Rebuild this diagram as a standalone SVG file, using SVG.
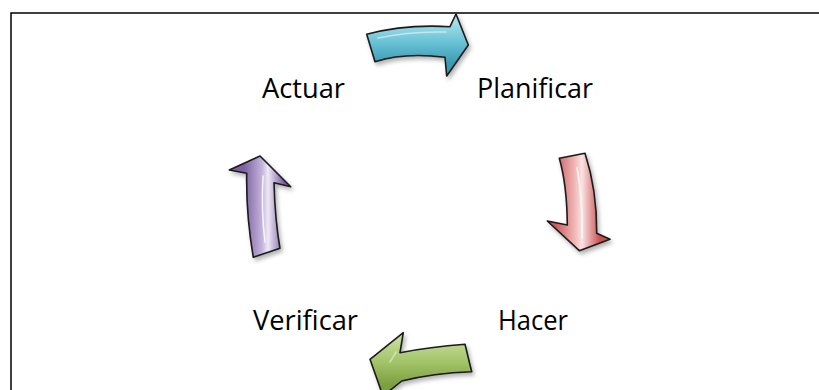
<svg xmlns="http://www.w3.org/2000/svg" width="819" height="390" viewBox="0 0 819 390">
  <style>
    .lbl { font-family: "Open Sans", "Liberation Sans", sans-serif; font-size: 27px; fill: #000; }
    .arrow { stroke: #1a1a1a; stroke-width: 1.6; stroke-linejoin: round; filter: url(#shadow); }
    .gloss { fill: none; stroke: #ffffff; stroke-linecap: round; }
  </style>
  <defs>
    <filter id="shadow" x="-30%" y="-30%" width="160%" height="160%">
      <feDropShadow dx="2" dy="3" stdDeviation="2" flood-color="#000" flood-opacity="0.3"/>
    </filter>
    <linearGradient id="gCyan" gradientUnits="userSpaceOnUse" x1="0" y1="22" x2="0" y2="64">
      <stop offset="0" stop-color="#a6dfeb"/>
      <stop offset="0.45" stop-color="#6cc4d7"/>
      <stop offset="1" stop-color="#3a9ab2"/>
    </linearGradient>
    <linearGradient id="gRed" gradientUnits="userSpaceOnUse" x1="555" y1="0" x2="600" y2="0">
      <stop offset="0" stop-color="#c85a5a"/>
      <stop offset="0.45" stop-color="#f2b9b9"/>
      <stop offset="0.6" stop-color="#fbe3e3"/>
      <stop offset="1" stop-color="#c95050"/>
    </linearGradient>
    <linearGradient id="gGreen" gradientUnits="userSpaceOnUse" x1="0" y1="340" x2="0" y2="385">
      <stop offset="0" stop-color="#c4dc98"/>
      <stop offset="0.5" stop-color="#a2c368"/>
      <stop offset="1" stop-color="#7c9f40"/>
    </linearGradient>
    <linearGradient id="gPurple" gradientUnits="userSpaceOnUse" x1="244" y1="0" x2="284" y2="0">
      <stop offset="0" stop-color="#7d62a3"/>
      <stop offset="0.45" stop-color="#c3b3da"/>
      <stop offset="0.6" stop-color="#efe9f7"/>
      <stop offset="1" stop-color="#7a5ca0"/>
    </linearGradient>
  </defs>

  <rect width="819" height="390" fill="#ffffff"/>
  <path d="M11,392 L11,13 L821,13" fill="none" stroke="#000" stroke-width="1.5"/>

  <g id="connectors">
    <g id="arrow-plan">
      <path class="arrow" fill="url(#gCyan)" d="M366.7,34.3 Q405,24 450,26.7 L456,14 L468.3,45 L446.7,76 L445,57.3 Q405,52 375,61.7 Z"/>
      <path class="gloss" stroke-opacity="0.5" stroke-width="1.5" d="M378,38 Q410,31 446,32"/>
    </g>
    <g id="arrow-hacer">
      <path class="arrow" fill="url(#gRed)" d="M559.3,158.3 L585,153.3 Q597,190 596.7,233.3 L610,239.3 L579.3,250.7 L547.3,221 L567.3,225 Q567,185 559.3,158.3 Z"/>
      <path class="gloss" stroke-opacity="0.85" stroke-width="1.5" d="M577,168 Q583,200 582,238"/>
    </g>
    <g id="arrow-verif">
      <path class="arrow" fill="url(#gGreen)" d="M370,359.3 L403.3,332.7 L400,352.7 Q430,347 465,344.3 L471.7,371.7 Q433,373 401.7,381 L383,396 Z"/>
      <path class="gloss" stroke-opacity="0.45" stroke-width="1.5" d="M390,362 L396,352"/>
    </g>
    <g id="arrow-act">
      <path class="arrow" fill="url(#gPurple)" d="M260,156 L290.7,186.7 L274,182.7 Q275,220 280,248.3 L253.3,257.3 Q246,215 246.7,173.3 L229.3,170 Z"/>
      <path class="gloss" stroke-opacity="0.85" stroke-width="1.5" d="M263,176 Q261,210 265,242"/>
    </g>
  </g>

  <g id="node-planificar"><text class="lbl" x="477" y="98" textLength="116" lengthAdjust="spacingAndGlyphs">Planificar</text></g>
  <g id="node-hacer"><text class="lbl" x="498" y="330" textLength="70" lengthAdjust="spacingAndGlyphs">Hacer</text></g>
  <g id="node-verificar"><text class="lbl" x="253" y="330" textLength="105" lengthAdjust="spacingAndGlyphs">Verificar</text></g>
  <g id="node-actuar"><text class="lbl" x="262" y="98" textLength="83" lengthAdjust="spacingAndGlyphs">Actuar</text></g>
</svg>
